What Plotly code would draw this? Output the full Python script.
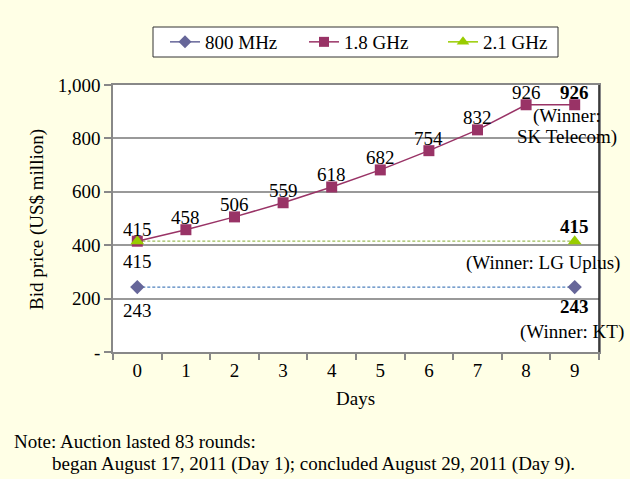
import plotly.graph_objects as go

days = [0, 1, 2, 3, 4, 5, 6, 7, 8, 9]
ghz18 = [415, 458, 506, 559, 618, 682, 754, 832, 926, 926]
mhz800_days = [0, 9]
mhz800 = [243, 243]
ghz21_days = [0, 9]
ghz21 = [415, 415]
y_ticks = [0, 200, 400, 600, 800, 1000]
y_ticklabels = ["-", "200", "400", "600", "800", "1,000"]

FONT = "Liberation Serif, Times New Roman, serif"
FS = 19
C800 = "#666699"
C18 = "#993366"
C21 = "#99CC00"
BLUE_DASH = "#4F81BD"
GREEN_DASH = "#9BBB59"

W, H = 630, 479
L, R, T, B = 113, 31, 85, 127
pw, ph = W - L - R, H - T - B


def px_x(p):
    return (p - L) / pw


def px_y(p):
    return (H - B - p) / ph


fig = go.Figure()

# dashed connector lines
fig.add_trace(go.Scatter(x=mhz800_days, y=mhz800, mode="lines",
                         line=dict(color=BLUE_DASH, width=1.2, dash="3px,2px"),
                         showlegend=False, hoverinfo="skip"))
fig.add_trace(go.Scatter(x=ghz21_days, y=ghz21, mode="lines",
                         line=dict(color=GREEN_DASH, width=1.2, dash="3px,2px"),
                         showlegend=False, hoverinfo="skip"))

fig.add_trace(go.Scatter(x=mhz800_days, y=mhz800, mode="markers", name="800 MHz",
                         marker=dict(symbol="diamond", size=11, color=C800),
                         showlegend=False))
fig.add_trace(go.Scatter(x=days, y=ghz18, mode="lines+markers", name="1.8 GHz",
                         marker=dict(symbol="square", size=11, color=C18),
                         line=dict(color=C18, width=1.5), showlegend=False))
fig.add_trace(go.Scatter(x=ghz21_days, y=ghz21, mode="markers", name="2.1 GHz",
                         marker=dict(symbol="triangle-up", size=12, color=C21),
                         showlegend=False))

# legend entries (legend-only)
for name, sym, col, sz in [("800 MHz", "diamond", C800, 10),
                           ("1.8 GHz", "square", C18, 10),
                           ("2.1 GHz", "triangle-up", C21, 11)]:
    fig.add_trace(go.Scatter(x=[None], y=[None], mode="lines+markers", name=name,
                             marker=dict(symbol=sym, size=sz, color=col),
                             line=dict(color=col, width=1.5), visible=True))

ann = []
tf = dict(family=FONT, size=FS, color="black")
# labels for 1.8 GHz days 0-8
for d, v in zip(days[:9], ghz18[:9]):
    ann.append(dict(x=d, y=v, text=str(v), showarrow=False, yshift=12, font=tf))
ann.append(dict(x=0, y=ghz21[0], text=str(ghz21[0]), showarrow=False, yshift=-20, font=tf))
ann.append(dict(x=0, y=mhz800[0], text=str(mhz800[0]), showarrow=False, yshift=-23, font=tf))
# day 9 labels
ann.append(dict(x=9, y=ghz18[9], text="<b>%d</b>" % ghz18[9], showarrow=False, yshift=12, font=tf))
ann.append(dict(x=9, y=ghz18[9], text="(Winner:", showarrow=False, yshift=-11, xshift=-8, font=tf))
ann.append(dict(x=9, y=ghz18[9], text="SK Telecom)", showarrow=False, yshift=-32, xshift=-8, font=tf))
ann.append(dict(x=9, y=ghz21[1], text="<b>%d</b>" % ghz21[1], showarrow=False, yshift=15, font=tf))
ann.append(dict(x=9, y=ghz21[1], text="(Winner: LG Uplus)", showarrow=False, yshift=-22, xshift=-32, font=tf))
ann.append(dict(x=9, y=mhz800[1], text="<b>%d</b>" % mhz800[1], showarrow=False, yshift=-19, font=tf))
ann.append(dict(x=9, y=mhz800[1], text="(Winner: KT)", showarrow=False, yshift=-45, xshift=-3, font=tf))
# arrowheads
ann.append(dict(x=9, y=ghz21[1], ax=-3, ay=0, axref="pixel", ayref="pixel", text="",
                showarrow=True, arrowhead=5, arrowsize=3.2, arrowwidth=1, arrowcolor=GREEN_DASH,
                standoff=2))
ann.append(dict(x=9, y=mhz800[1], ax=-3, ay=0, axref="pixel", ayref="pixel", text="",
                showarrow=True, arrowhead=5, arrowsize=3.2, arrowwidth=1, arrowcolor=BLUE_DASH,
                standoff=2))
# axis titles
ann.append(dict(x=px_x(37), y=px_y(220), xref="paper", yref="paper", text="Bid price (US$ million)",
                textangle=-90, showarrow=False, xanchor="center", yanchor="middle", font=tf))
ann.append(dict(x=px_x(355), y=px_y(398), xref="paper", yref="paper", text="Days",
                showarrow=False, xanchor="center", yanchor="middle", font=tf))
# notes
ann.append(dict(x=px_x(12), y=px_y(441), xref="paper", yref="paper",
                text="Note: Auction lasted 83 rounds:",
                showarrow=False, xanchor="left", yanchor="middle", font=tf))
ann.append(dict(x=px_x(50), y=px_y(464), xref="paper", yref="paper",
                text="began August 17, 2011 (Day 1); concluded August 29, 2011 (Day 9).",
                showarrow=False, xanchor="left", yanchor="middle", font=tf))

fig.update_layout(
    width=W, height=H,
    margin=dict(l=L, r=R, t=T, b=B, autoexpand=False),
    paper_bgcolor="#FFFFE6",
    plot_bgcolor="white",
    font=dict(family=FONT, size=FS, color="black"),
    showlegend=True,
    legend=dict(orientation="h", x=px_x(165), xanchor="left",
                y=px_y(23), yanchor="top",
                bgcolor="rgba(0,0,0,0)", borderwidth=0,
                font=dict(family=FONT, size=FS), itemwidth=30,
                entrywidth=94, tracegroupgap=0),
    annotations=ann,
    xaxis=dict(range=[-0.5, 9.5], tickvals=days, ticktext=[str(d) for d in days],
               ticks="", showgrid=False, zeroline=False, automargin=False,
               showline=True, linecolor="#888888", linewidth=1.5, mirror=True,
               minor=dict(tickvals=[d - 0.5 for d in days] + [9.5], ticks="outside",
                          ticklen=6, tickcolor="#888888", tickwidth=1.5, showgrid=False),
               tickfont=dict(family=FONT, size=FS)),
    yaxis=dict(range=[0, 1000], tickvals=y_ticks, ticktext=y_ticklabels,
               ticks="outside", ticklen=7, tickcolor="#888888", tickwidth=1.5,
               showgrid=True, gridcolor="#999999", gridwidth=1.5, zeroline=False,
               showline=True, linecolor="#888888", linewidth=1.5, mirror=True,
               automargin=False, tickfont=dict(family=FONT, size=FS)),
    shapes=[
        dict(type="line", xref="paper", yref="paper", x0=1, x1=1, y0=0, y1=1,
             line=dict(color="#222222", width=1.5)),
        dict(type="rect", xref="paper", yref="paper", layer="above",
             x0=px_x(153), x1=px_x(558), y0=px_y(27), y1=px_y(57),
             fillcolor="white", line=dict(color="#333333", width=1)),
    ],
)

fig.write_html("out.html", config={"displayModeBar": False},
               post_script="document.body.style.margin='0';document.body.style.background='#FFFFE6';")
